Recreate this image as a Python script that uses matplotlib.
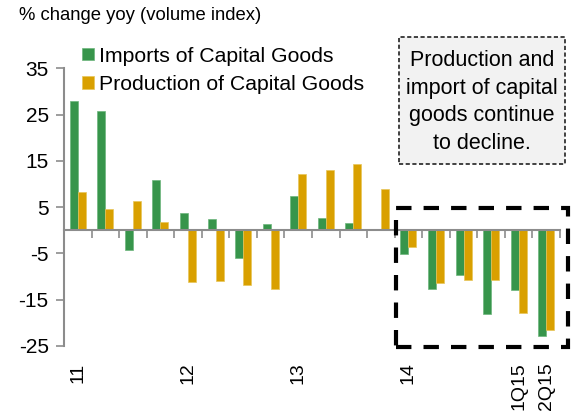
import matplotlib
matplotlib.use("Agg")
import matplotlib.pyplot as plt
from matplotlib.patches import Rectangle
import numpy as np

plt.rcParams['font.family'] = ['Liberation Sans', 'DejaVu Sans']
plt.rcParams['axes.unicode_minus'] = False

quarters = ['1Q11', '2Q11', '3Q11', '4Q11', '1Q12', '2Q12', '3Q12', '4Q12',
            '1Q13', '2Q13', '3Q13', '4Q13', '1Q14', '2Q14', '3Q14', '4Q14',
            '1Q15', '2Q15']
tick_labels = ['11', '', '', '', '12', '', '', '', '13', '', '', '', '14', '', '', '',
               '1Q15', '2Q15']
imports = [27.9, 25.8, -4.2, 10.9, 3.7, 2.4, -6.0, 1.3,
           7.3, 2.7, 1.6, 0.0, -5.1, -12.8, -9.7, -18.2, -13.0, -22.9]
production = [8.2, 4.5, 6.4, 1.7, -11.3, -10.9, -11.9, -12.7,
              12.2, 13.1, 14.3, 9.0, -3.7, -11.4, -10.7, -10.8, -17.9, -21.5]
yticks = [-25, -15, -5, 5, 15, 25, 35]

green = '#37954B'
orange = '#D9A000'
grey = '#8C8C8C'

fig = plt.figure(figsize=(5.75, 4.11), dpi=100)
ax = fig.add_axes([64/575, 1-345.7/411, (560-64)/575, (345.7-68.5)/411])

x = np.arange(len(quarters))
w = 0.29
ax.bar(x - 0.145, imports, w, color=green, edgecolor='#6DB57C', linewidth=0.5,
       label='Imports of Capital Goods')
ax.bar(x + 0.145, production, w, color=orange, edgecolor='#E8C55A', linewidth=0.5,
       label='Production of Capital Goods')

ax.set_xlim(-0.5, len(quarters) - 0.5)
ax.set_ylim(-25, 35)
ax.set_yticks(yticks)
ax.tick_params(axis='y', direction='out', length=6, width=1.2, color=grey,
               labelsize=15, pad=5)

for s in ['top', 'right']:
    ax.spines[s].set_visible(False)
ax.spines['left'].set_color(grey)
ax.spines['left'].set_linewidth(1.5)
ax.spines['bottom'].set_position(('data', 0))
ax.spines['bottom'].set_color(grey)
ax.spines['bottom'].set_linewidth(1.5)

ax.set_xticks(x)
ax.set_xticklabels([])
ax.tick_params(axis='x', which='major', length=0)
ax.set_xticks(np.arange(len(quarters) + 1) - 0.5, minor=True)
ax.tick_params(axis='x', which='minor', direction='out', length=6, width=1.2, color=grey)

sec = ax.secondary_xaxis('bottom')
sec.set_xticks(x, tick_labels, rotation=90)
sec.tick_params(length=0, labelsize=14, pad=12)
sec.spines['bottom'].set_visible(False)
for lbl in sec.get_xticklabels():
    lbl.set_verticalalignment('top')

fig.text(19/575, 1-15/411, '% change yoy (volume index)', fontsize=13.3,
         ha='left', va='center')

leg = ax.legend(loc='upper left', bbox_to_anchor=(82/575, 1-46.5/411),
                bbox_transform=fig.transFigure, frameon=False, fontsize=15.3,
                handlelength=0.55, handleheight=0.55, handletextpad=0.25,
                labelspacing=0.45, borderpad=0, borderaxespad=0)

# annotation box
fig.patches.append(Rectangle((399/575, 1-164/411), (565-399)/575, (164-36.7)/411,
                             transform=fig.transFigure, facecolor='#F2F2F2',
                             edgecolor='#222222', linewidth=1.2,
                             linestyle=(0, (2.5, 1.5)), zorder=3))
fig.text(482/575, 1-102/411,
         'Production and\nimport of capital\ngoods continue\nto decline.',
         fontsize=15.5, ha='center', va='center', linespacing=1.4, zorder=4)

# highlight box
fig.patches.append(Rectangle((396/575, 1-347/411), (568-396)/575, (347-208)/411,
                             transform=fig.transFigure, facecolor='none',
                             edgecolor='black', linewidth=3,
                             linestyle=(0, (3.7, 2.9)), zorder=5))

fig.savefig('out.png', dpi=100)
